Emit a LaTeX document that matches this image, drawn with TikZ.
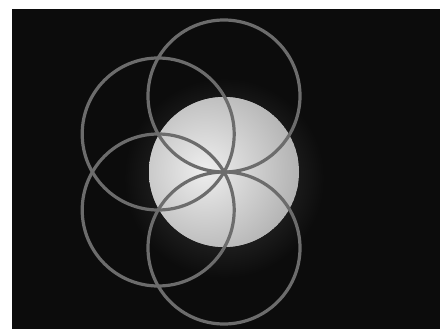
\documentclass[tikz,border=0pt]{standalone}
\begin{document}
\begin{tikzpicture}[x=1pt,y=-1pt,
  ring/.style={draw=ringgray,line width=3.2pt}]
\definecolor{ringgray}{RGB}{108,108,108}
\definecolor{bg}{RGB}{12,12,12}
\definecolor{diskedge}{RGB}{178,178,178}
\definecolor{diskmid}{RGB}{238,238,238}
\useasboundingbox (0,0) rectangle (440,329);
\fill[white] (0,0) rectangle (440,329);
\fill[bg] (12,9) rectangle (440,329);
% faint glow
\begin{scope}
\clip (12,9) rectangle (440,329);
\shade[inner color=gray!45!bg, outer color=bg] (224,178) circle (100);
\end{scope}
% disk
\begin{scope}
\clip (224,172) circle (75);
\fill[diskedge] (224,172) circle (75);
\shade[inner color=diskmid, outer color=diskedge] (205,170) circle (95);
\end{scope}
% rings
\draw[ring] (224,96) circle (76);
\draw[ring] (224,248) circle (76);
\draw[ring] (158.2,134) circle (76);
\draw[ring] (158.2,210) circle (76);
\end{tikzpicture}
\end{document}
